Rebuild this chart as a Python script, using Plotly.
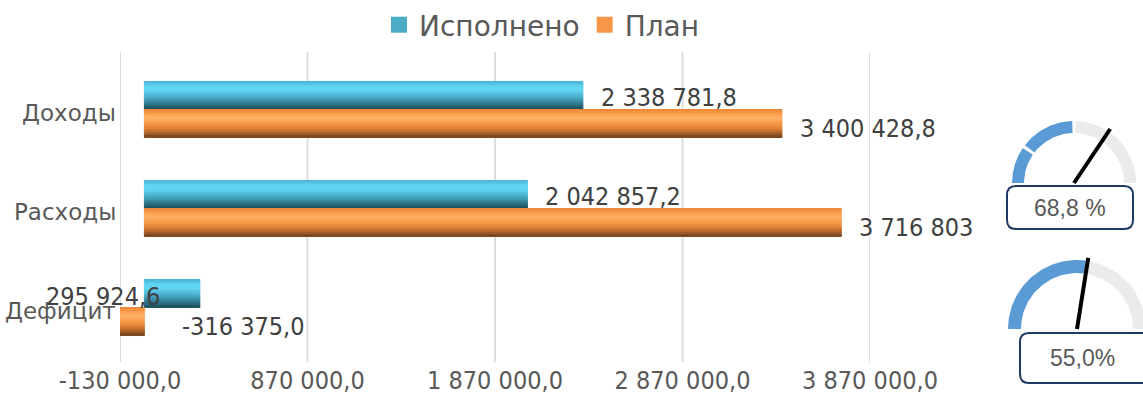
import numpy as np
import plotly.graph_objects as go

categories = ["Доходы", "Расходы", "Дефицит"]
series_names = ["Исполнено", "План"]
done_values = [2338781.8, 2042857.2, 295924.6]
plan_values = [3400428.8, 3716803.0, -316375.0]
done_labels = ["2 338 781,8", "2 042 857,2", "295 924,6"]
plan_labels = ["3 400 428,8", "3 716 803", "-316 375,0"]
tick_values = [-130000, 870000, 1870000, 2870000, 3870000]
tick_labels = ["-130 000,0", "870 000,0", "1 870 000,0", "2 870 000,0", "3 870 000,0"]
gauge_values = [68.8, 55.0]
gauge_labels = ["68,8 %", "55,0%"]
gauge_fill = [50.0, 55.0]
gauge_breaks = [[20.0], []]

W, H = 1143, 406
FONT_C = "DejaVu Sans Condensed, Liberation Sans Narrow, DejaVu Sans, sans-serif"
FONT_R = "DejaVu Sans, Verdana, sans-serif"
GREY_TXT = "#595959"
LABEL_TXT = "#404040"
BAR_W = 0.283

# top -> bottom shading of the "tube" bars
blue_stops = ["#4fb8d6", "#5dd0ef", "#64d8f7", "#58c6e4", "#4aaecb", "#3c93ab", "#2d7487", "#1f5563"]
orange_stops = ["#f08a3a", "#f89c4a", "#fcb263", "#faa456", "#f29444", "#dd8136", "#b4672b", "#7e4a22"]
legend_colors = ["#4bacc6", "#f79646"]


def shade(stops, n):
    rgb = np.array([[int(c[i:i + 2], 16) for i in (1, 3, 5)] for c in stops], float)
    t = np.linspace(0, len(stops) - 1, n)
    out = []
    for v in t:
        i = min(int(v), len(stops) - 2)
        f = v - i
        c = rgb[i] * (1 - f) + rgb[i + 1] * f
        out.append("rgb(%d,%d,%d)" % tuple(c.round()))
    return out


fig = go.Figure()

for s, (vals, stops) in enumerate([(done_values, blue_stops), (plan_values, orange_stops)]):
    base = -BAR_W if s == 0 else 0.0
    stripes = shade(stops, 14)
    n = len(stripes)
    for k, c in enumerate(stripes):
        fig.add_trace(go.Bar(
            x=vals, y=categories, orientation="h",
            offset=base + k * BAR_W / n, width=BAR_W / n,
            marker=dict(color=c, line=dict(width=1, color=c)),
            showlegend=False, hoverinfo="skip",
        ))

for name, c in zip(series_names, legend_colors):
    fig.add_trace(go.Scatter(x=[None], y=[None], mode="markers", name=name,
                             marker=dict(symbol="square", size=16, color=c), showlegend=True))

# gauges (drawn on a pixel-sized overlay axis pair)
gauge_geo = [
    dict(cx=1074, cy=183, r_out=62, r_in=50, box=(1007, 186, 1133, 229), txt=(1070, 208)),
    dict(cx=1077, cy=329, r_out=69, r_in=56, box=(1020, 333, 1152, 383), txt=(1082, 358)),
]


def arc(cx, cy, r0, r1, f0, f1):
    a = np.pi * (1 - np.linspace(f0, f1, 60))
    xs = np.concatenate([cx + r1 * np.cos(a), cx + r0 * np.cos(a[::-1])])
    ys = np.concatenate([cy - r1 * np.sin(a), cy - r0 * np.sin(a[::-1])])
    return list(xs) + [xs[0]], list(ys) + [ys[0]]


def rrect(x0, y0, x1, y1, r):
    return (f"M{x0+r},{y0} L{x1-r},{y0} Q{x1},{y0} {x1},{y0+r} L{x1},{y1-r} Q{x1},{y1} {x1-r},{y1} "
            f"L{x0+r},{y1} Q{x0},{y1} {x0},{y1-r} L{x0},{y0+r} Q{x0},{y0} {x0+r},{y0} Z")


shapes = []
annotations = []

# vertical gridlines (Excel style, slightly taller than the category band)
for tv in tick_values:
    shapes.append(dict(type="line", xref="x", yref="paper", x0=tv, x1=tv,
                       y0=(H - 362) / H, y1=(H - 52) / H, layer="below",
                       line=dict(color="#dedede", width=2)))

for g, val, lab, fill, brk in zip(gauge_geo, gauge_values, gauge_labels, gauge_fill, gauge_breaks):
    cuts = [0.0] + [b / 100 for b in brk] + [fill / 100]
    gap = 0.009
    for i in range(len(cuts) - 1):
        f0 = cuts[i] + (gap if i > 0 else 0)
        f1 = cuts[i + 1] - gap
        xs, ys = arc(g["cx"], g["cy"], g["r_in"], g["r_out"], f0, f1)
        fig.add_trace(go.Scatter(x=xs, y=ys, xaxis="x2", yaxis="y2", mode="lines", fill="toself",
                                 fillcolor="#5b9bd5", line=dict(width=0), showlegend=False, hoverinfo="skip"))
    xs, ys = arc(g["cx"], g["cy"], g["r_in"], g["r_out"], fill / 100 + gap, 1.0)
    fig.add_trace(go.Scatter(x=xs, y=ys, xaxis="x2", yaxis="y2", mode="lines", fill="toself",
                             fillcolor="#ebebeb", line=dict(width=0), showlegend=False, hoverinfo="skip"))
    ang = np.pi * (1 - val / 100)
    ln = g["r_out"] + 3
    fig.add_trace(go.Scatter(x=[g["cx"], g["cx"] + ln * np.cos(ang)], y=[g["cy"], g["cy"] - ln * np.sin(ang)],
                             xaxis="x2", yaxis="y2", mode="lines", line=dict(color="black", width=4),
                             showlegend=False, hoverinfo="skip"))
    x0, y0, x1, y1 = g["box"]
    shapes.append(dict(type="path", path=rrect(x0, y0, x1, y1, 9), xref="x2", yref="y2",
                       fillcolor="white", line=dict(color="#1f3864", width=2)))
    annotations.append(dict(x=g["txt"][0], y=g["txt"][1], xref="x2", yref="y2", text=lab, showarrow=False,
                            font=dict(family="Liberation Sans, Arial", size=23, color=GREY_TXT)))

# category labels
for c in categories:
    annotations.append(dict(x=118 / W, xref="paper", y=c, yref="y", text=c, xanchor="right",
                            yshift=-3, showarrow=False, font=dict(family=FONT_R, size=23, color=GREY_TXT)))

# data labels
lab_font = dict(family=FONT_C, size=25, color=LABEL_TXT)
for i, c in enumerate(categories):
    if i < 2:
        annotations.append(dict(x=done_values[i], y=c, xref="x", yref="y", text=done_labels[i],
                                xanchor="left", xshift=16, yshift=12, showarrow=False, font=lab_font))
        annotations.append(dict(x=plan_values[i], y=c, xref="x", yref="y", text=plan_labels[i],
                                xanchor="left", xshift=16, yshift=-19, showarrow=False, font=lab_font))
    else:
        annotations.append(dict(x=done_values[i], y=c, xref="x", yref="y", text=done_labels[i],
                                xanchor="right", xshift=-38, yshift=11, showarrow=False, font=lab_font))
        annotations.append(dict(x=0, y=c, xref="x", yref="y", text=plan_labels[i],
                                xanchor="left", xshift=36, yshift=-19, showarrow=False, font=lab_font))

fig.update_layout(
    width=W, height=H,
    margin=dict(l=0, r=0, t=0, b=0),
    paper_bgcolor="white", plot_bgcolor="rgba(0,0,0,0)",
    barmode="overlay",
    font=dict(family=FONT_C, color=GREY_TXT),
    xaxis=dict(domain=[120 / W, 870 / W], range=[-130000, 3870000], tickvals=tick_values,
               ticktext=tick_labels, showgrid=False, zeroline=False, showline=False, ticks="",
               automargin=False, ticklabelstandoff=6,
               tickfont=dict(family=FONT_C, size=25, color=GREY_TXT)),
    yaxis=dict(domain=[(H - 357) / H, (H - 60) / H], type="category", categoryarray=categories,
               range=[2.5, -0.5], showticklabels=False, showgrid=False, zeroline=False,
               ticks="", automargin=False),
    xaxis2=dict(domain=[0, 1], range=[0, W], visible=False, anchor="y2", fixedrange=True),
    yaxis2=dict(domain=[0, 1], range=[H, 0], visible=False, anchor="x2", fixedrange=True),
    legend=dict(orientation="h", x=542 / W, xanchor="center", y=1.0, yanchor="top",
                font=dict(family=FONT_R, size=28, color=GREY_TXT), bgcolor="rgba(0,0,0,0)",
                itemsizing="trace"),
    shapes=shapes,
    annotations=annotations,
)

fig.write_html("out.html", config={"displayModeBar": False},
               post_script="document.body.style.margin='0';")
